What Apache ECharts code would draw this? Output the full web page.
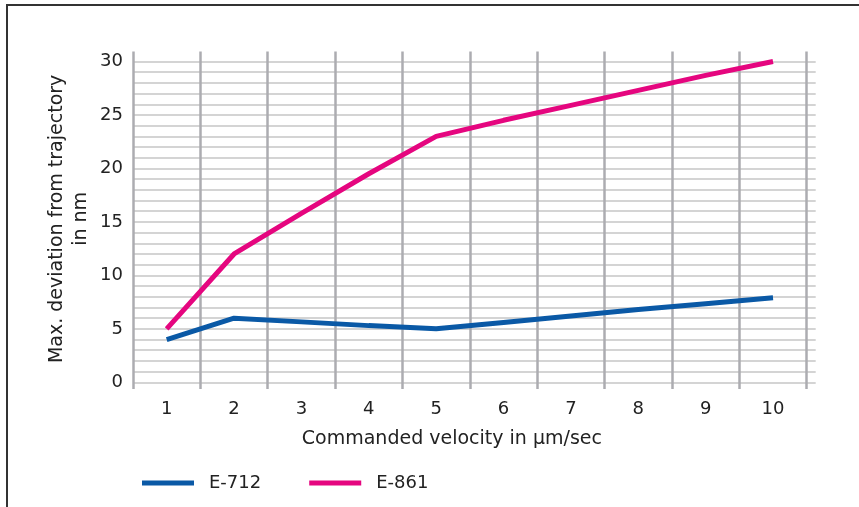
<!DOCTYPE html>
<html>
<head>
<meta charset="utf-8">
<script src="https://cdn.jsdelivr.net/npm/echarts@6/dist/echarts.min.js"></script>
<style>
html,body{margin:0;padding:0;background:#fff;}
#chart{position:absolute;left:0;top:0;width:859px;height:507px;}
#frame{position:absolute;left:6px;top:4px;width:900px;height:600px;border-top:2px solid #333;border-left:2px solid #333;pointer-events:none;}
</style>
</head>
<body>
<div id="chart"></div>
<div id="frame"></div>
<script>
const categories = ['1','2','3','4','5','6','7','8','9','10'];
const e712 = [4, 6, 5.65, 5.3, 5, 5.6, 6.2, 6.8, 7.35, 7.9];
const e861 = [5, 12, 15.8, 19.5, 23, 24.5, 25.9, 27.3, 28.7, 30];
const yTickLabels = [0, 5, 10, 15, 20, 25, 30];

const FONT = 'DejaVu Sans';
const chart = echarts.init(document.getElementById('chart'), null, {renderer:'canvas'});
chart.setOption({
  backgroundColor: '#fff',
  animation: false,
  textStyle: {fontFamily: FONT},
  grid: [
    {left: 133, right: 52.3, top: 51.5, bottom: 118},
    {left: 133, right: 43.3, top: 61.5, bottom: 124.7}
  ],
  xAxis: [
    {
      type: 'category', gridIndex: 0, data: categories, boundaryGap: true, z: 1,
      axisLine: {show: false}, axisTick: {show: false},
      splitLine: {show: true, interval: 0, lineStyle: {color: '#acacb1', width: 2.5}},
      axisLabel: {interval: 0, margin: 11, fontSize: 18, color: '#222', fontFamily: FONT},
      name: 'Commanded velocity in µm/sec', nameLocation: 'middle', nameGap: 41,
      nameTextStyle: {fontSize: 19, color: '#222', fontFamily: FONT, padding: [0, 36, 0, 0]}
    },
    {type: 'value', gridIndex: 1, show: false, min: 0, max: 1}
  ],
  yAxis: [
    {type: 'value', gridIndex: 0, show: false, min: -0.627, max: 30.935},
    {
      type: 'value', gridIndex: 1, min: 0, max: 30, interval: 1, z: 0,
      axisLine: {show: false}, axisTick: {show: false},
      splitLine: {show: true, lineStyle: {color: '#c6c6c6', width: 1.5}},
      axisLabel: {
        margin: 10, fontSize: 18, color: '#222', fontFamily: FONT,
        formatter: v => yTickLabels.indexOf(v) >= 0 ? String(v) : ''
      },
      name: 'Max. deviation from trajectory\nin nm', nameLocation: 'middle', nameGap: 40,
      nameMoveOverlap: false,
      nameTextStyle: {fontSize: 19, color: '#222', lineHeight: 24, fontFamily: FONT, align: 'center', padding: [0, 0, 0, 6]}
    }
  ],
  legend: {
    left: 137, top: 469, icon: 'rect', itemWidth: 52, itemHeight: 5, itemGap: 48,
    textStyle: {fontSize: 18, color: '#222', fontFamily: FONT, padding: [0, 0, 0, 10]},
    data: ['E-712', 'E-861']
  },
  series: [
    {name: 'E-712', type: 'line', xAxisIndex: 0, yAxisIndex: 0, data: e712,
     showSymbol: false, symbol: 'none', z: 3,
     lineStyle: {color: '#0a59a6', width: 5}, itemStyle: {color: '#0a59a6'}},
    {name: 'E-861', type: 'line', xAxisIndex: 0, yAxisIndex: 0, data: e861,
     showSymbol: false, symbol: 'none', z: 3,
     lineStyle: {color: '#e5067f', width: 5}, itemStyle: {color: '#e5067f'}}
  ]
});
</script>
</body>
</html>
